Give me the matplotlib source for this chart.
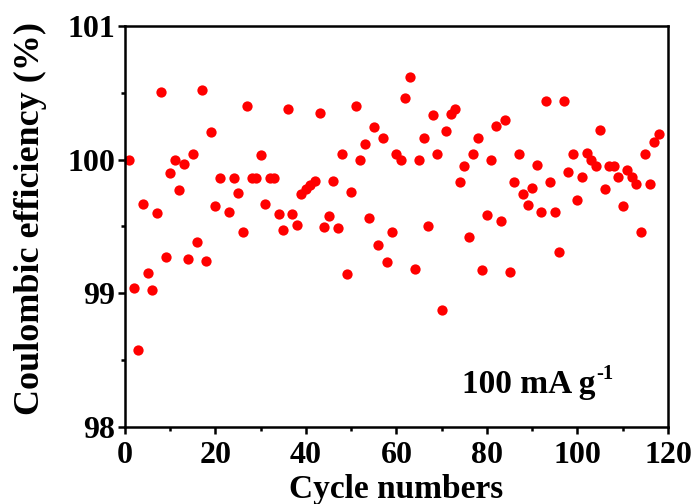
import matplotlib
matplotlib.use("Agg")
import matplotlib.pyplot as plt
from matplotlib.ticker import MultipleLocator

# Cycle index and measured coulombic efficiency (%)
cycles = [1, 2, 3, 4, 5, 6, 7, 8, 9, 10,
          11, 12, 13, 14, 15, 16, 17, 18, 19, 20,
          21, 23, 24, 25, 26, 27, 28, 29, 30,
          31, 32, 33, 34, 35, 36, 37, 38, 39, 40,
          41, 42, 43, 44, 45, 46, 47, 48, 49, 50,
          51, 52, 53, 54, 55, 56, 57, 58, 59, 60,
          61, 62, 63, 64, 65, 66, 67, 68, 69, 70,
          71, 72, 73, 74, 75, 76, 77, 78, 79, 80,
          81, 82, 83, 84, 85, 86, 87, 88, 89, 90,
          91, 92, 93, 94, 95, 96, 97, 98, 99, 100,
          101, 102, 103, 104, 105, 106, 107, 108, 109, 110,
          111, 112, 113, 114, 115, 116, 117, 118]

efficiency = [100.00, 99.035, 98.575, 99.67, 99.15, 99.02, 99.60, 100.505, 99.27, 99.90,
              100.00, 99.77, 99.97, 99.255, 100.04, 99.385, 100.52, 99.24, 100.21, 99.65,
              99.86, 99.61, 99.86, 99.75, 99.46, 100.40, 99.86, 99.86, 100.035,
              99.67, 99.86, 99.86, 99.59, 99.47, 100.38, 99.59, 99.51, 99.74, 99.78,
              99.81, 99.84, 100.345, 99.495, 99.575, 99.84, 99.49, 100.04, 99.14, 99.76,
              100.40, 100.00, 100.12, 99.56, 100.245, 99.36, 100.16, 99.23, 99.455, 100.045,
              100.00, 100.46, 100.62, 99.18, 100.00, 100.16, 99.50, 100.33, 100.04, 98.87,
              100.215, 100.34, 100.375, 99.83, 99.955, 99.42, 100.04, 100.165, 99.17, 99.585,
              100.00, 100.255, 99.54, 100.295, 99.155, 99.83, 100.04, 99.74, 99.66, 99.79,
              99.96, 99.61, 100.44, 99.83, 99.61, 99.31, 100.44, 99.91, 100.04, 99.70,
              99.87, 100.05, 99.995, 99.955, 100.225, 99.78, 99.955, 99.955, 99.87, 99.65,
              99.92, 99.87, 99.82, 99.46, 100.04, 99.82, 100.13, 100.195]

x_ticks = [0, 20, 40, 60, 80, 100, 120]
y_ticks = [98, 99, 100, 101]

plt.rcParams["font.family"] = ["Liberation Serif", "DejaVu Serif"]
plt.rcParams["font.weight"] = "bold"

fig = plt.figure(figsize=(6.94, 5.04), dpi=100)
ax = fig.add_axes([0.180, 0.1534, 0.7825, 0.7950])

ax.plot(cycles, efficiency, linestyle="none", marker="o", markersize=7.4,
        markerfacecolor="#ff0000", markeredgecolor="none", clip_on=False)

ax.set_xlim(0, 120)
ax.set_ylim(98, 101)
ax.set_xticks(x_ticks)
ax.set_yticks(y_ticks)
ax.xaxis.set_minor_locator(MultipleLocator(10))
ax.yaxis.set_minor_locator(MultipleLocator(0.5))

for side in ("left", "right", "top", "bottom"):
    ax.spines[side].set_linewidth(1.8)

ax.tick_params(axis="both", which="major", direction="out", length=5, width=1.8,
               labelsize=23)
ax.tick_params(axis="x", which="major", pad=5)
ax.tick_params(axis="y", which="major", pad=2)
ax.tick_params(axis="both", which="minor", direction="out", length=3, width=1.8)
ax.tick_params(top=False, right=False, which="both")
for lbl in ax.get_xticklabels() + ax.get_yticklabels():
    lbl.set_fontweight("bold")

ax.set_xlabel("Cycle numbers", fontsize=24, fontweight="bold")
ax.set_ylabel("Coulombic efficiency (%)", fontsize=26, fontweight="bold")
ax.xaxis.set_label_coords(0.5, -0.118)
ax.yaxis.set_label_coords(-0.143, 0.52)

# current-density note; superscript drawn as a smaller raised text
t = ax.text(74.5, 98.25, "100 mA g", fontsize=24, fontweight="bold",
            ha="left", va="baseline")
fig.canvas.draw()
bb = t.get_window_extent()
x_end = ax.transData.inverted().transform((bb.x1, bb.y0))[0]
ax.text(x_end + 0.2, 98.36, "-1", fontsize=15, fontweight="bold",
        ha="left", va="baseline")

fig.savefig("out.png", dpi=100)
